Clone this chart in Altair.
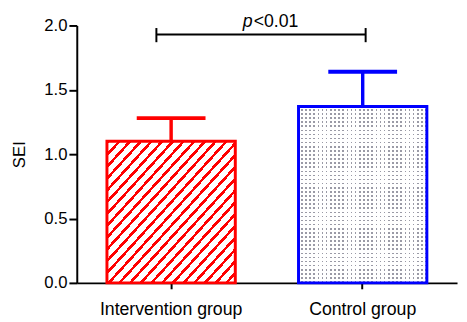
import altair as alt
import pandas as pd

# ---- data ----
groups = ["Intervention group", "Control group"]
means = [1.10, 1.37]
sds = [0.18, 0.27]
y_ticks = [0.0, 0.5, 1.0, 1.5, 2.0]
p_parts = ["p", "<0.01"]
bracket_level = 1.93
bracket_ends = [1.87, 1.98]
p_level = 1.99

# ---- styles ----
RED = "#ff0000"
BLUE = "#0000ff"
FONT = "Liberation Sans"
CLEAR = "rgba(255,255,255,0)"

df = pd.DataFrame({
    "group": groups,
    "mean": means,
    "upper": [m + s for m, s in zip(means, sds)],
})
bracket_df = pd.DataFrame({"group": [groups[0]], "g2": [groups[1]], "y": [bracket_level]})
end_df = pd.DataFrame({"group": groups, "y": [bracket_ends[0]] * 2, "y2": [bracket_ends[1]] * 2})
text_df = pd.DataFrame({"group": [groups[0]], "y": [p_level], "a": [p_parts[0]], "b": [p_parts[1]]})


def stripes(n, frac, c_on, c_off, x2, y2):
    stops = []
    for k in range(n):
        p0 = k / n
        p1 = (k + frac) / n
        p2 = (k + 1) / n
        stops += [alt.GradientStop(color=c_on, offset=p0),
                  alt.GradientStop(color=c_on, offset=p1),
                  alt.GradientStop(color=c_off, offset=p1),
                  alt.GradientStop(color=c_off, offset=p2)]
    return alt.Gradient(gradient="linear", stops=stops, x1=0, y1=0, x2=x2, y2=y2)


hatch = stripes(24, 0.33, RED, "#ffffff", 1, 1)
# dotted fill: grey base masked by white horizontal and vertical stripes
mask_h = stripes(43, 0.6, "#ffffff", CLEAR, 0, 1)
mask_v = stripes(31, 0.6, "#ffffff", CLEAR, 1, 0)

xscale = alt.Scale(domain=groups, paddingInner=0.33, paddingOuter=0.1575)
yscale = alt.Scale(domain=[0, 2], nice=False, zero=True)

x_axis = alt.Axis(title=None, labelAngle=0, labelFont=FONT, labelFontSize=18,
                  labelColor="black", domainColor="black", domainWidth=2,
                  tickColor="black", tickWidth=2, tickSize=6, labelPadding=12)
y_axis = alt.Axis(title="SEI", values=y_ticks, format=".1f", grid=False,
                  labelFont=FONT, labelFontSize=17, labelColor="black",
                  titleFont=FONT, titleFontSize=17, titleFontWeight="normal",
                  titleColor="black", titlePadding=16,
                  domainColor="black", domainWidth=2, tickColor="black",
                  tickWidth=2, tickSize=8, labelPadding=2)

X = alt.X("group:N", scale=xscale, axis=x_axis, sort=groups)


def Y(field):
    return alt.Y(field, scale=yscale, axis=y_axis)


col = alt.Color("group:N", scale=alt.Scale(domain=groups, range=[RED, BLUE]), legend=None)

bar1 = alt.Chart(df).transform_filter(alt.datum.group == groups[0]).mark_bar(
    fill=hatch, stroke=RED, strokeWidth=3, strokeJoin="miter"
).encode(x=X, y=Y("mean:Q"))

b2 = alt.Chart(df).transform_filter(alt.datum.group == groups[1])
bar2_base = b2.mark_bar(fill="#9a9aa6", strokeWidth=0).encode(x=X, y=Y("mean:Q"))
bar2_h = b2.mark_bar(fill=mask_h, strokeWidth=0).encode(x=X, y=Y("mean:Q"))
bar2_v = b2.mark_bar(fill=mask_v, strokeWidth=0).encode(x=X, y=Y("mean:Q"))
bar2 = b2.mark_bar(fill=CLEAR, stroke=BLUE, strokeWidth=3, strokeJoin="miter").encode(
    x=X, y=Y("mean:Q"))

err = alt.Chart(df).mark_rule(strokeWidth=3.5, opacity=1).encode(
    x=X, y=Y("mean:Q"), y2="upper:Q", color=col)

caps = alt.Chart(df).mark_tick(size=70, thickness=4, opacity=1).encode(
    x=X, y=Y("upper:Q"), color=col)

bracket = alt.Chart(bracket_df).mark_rule(color="black", strokeWidth=2, xOffset=-15, x2Offset=3).encode(
    x=X, x2="g2:N", y=Y("y:Q"))

end_l = alt.Chart(end_df).transform_filter(alt.datum.group == groups[0]).mark_rule(
    color="black", strokeWidth=2, xOffset=-15).encode(x=X, y=Y("y:Q"), y2="y2:Q")
end_r = alt.Chart(end_df).transform_filter(alt.datum.group == groups[1]).mark_rule(
    color="black", strokeWidth=2, xOffset=3).encode(x=X, y=Y("y:Q"), y2="y2:Q")

txt_p = alt.Chart(text_df).mark_text(font=FONT, fontSize=18, fontStyle="italic", align="right",
                                     baseline="alphabetic", xOffset=83, color="black").encode(
    x=X, y=Y("y:Q"), text="a:N")
txt_v = alt.Chart(text_df).mark_text(font=FONT, fontSize=18, align="left",
                                     baseline="alphabetic", xOffset=84, color="black").encode(
    x=X, y=Y("y:Q"), text="b:N")

chart = alt.layer(bar1, bar2_base, bar2_h, bar2_v, bar2, err, caps, bracket, end_l, end_r,
                  txt_p, txt_v).properties(
    width=387, height=262,
    autosize=alt.AutoSizeParams(type="none"),
    padding={"left": 70, "top": 15, "right": 2, "bottom": 36},
    background="white",
).configure_view(stroke=None)

chart.save("out.html", embed_options={"renderer": "svg", "actions": False})
